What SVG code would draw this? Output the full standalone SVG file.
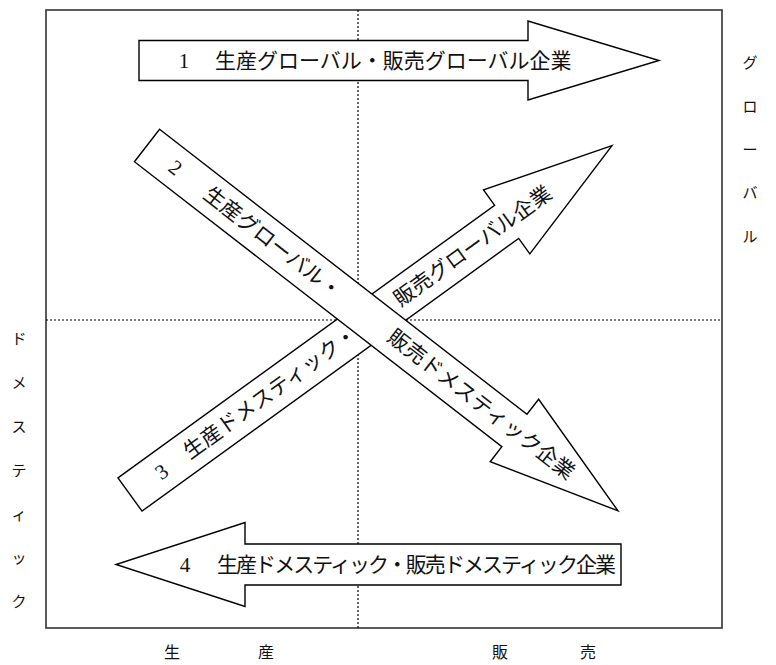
<svg xmlns="http://www.w3.org/2000/svg" width="776" height="665" viewBox="0 0 776 665">
<style>
.arrow{fill:#fff;stroke:#000;stroke-width:1.4;stroke-linejoin:miter}
.dot{stroke:#000;stroke-width:1.2;stroke-dasharray:2 2;fill:none}
.frame{fill:none;stroke:#333;stroke-width:1.6}
text{font-family:"Liberation Serif","Noto Sans CJK JP",serif;fill:#111}
.lab{font-size:21px;dominant-baseline:central}
.side{font-size:15px;text-anchor:middle;dominant-baseline:central}
.bot{font-size:16px;text-anchor:middle;dominant-baseline:central}
</style>
<rect width="776" height="665" fill="#fff"/>
<g id="frame">
<rect class="frame" x="46" y="10" width="676" height="618"/>
</g>
<g id="axes">
<line class="dot" x1="358" y1="10" x2="358" y2="628"/>
<line class="dot" x1="46" y1="320" x2="722" y2="320"/>
</g>
<g id="connectors">
<g id="arrow1">
<path class="arrow" d="M139,40.5 H528 V21 L659,60.5 L528,100 V80.5 H139 Z"/>
<text class="lab" x="184" y="60.5" text-anchor="middle">1</text>
<text class="lab" x="215" y="60.5">生産グローバル・販売グローバル企業</text>
</g>
<g id="arrow3" transform="translate(130,494.5) rotate(-35.9)">
<path class="arrow" d="M0,-20.5 H465 V-39.5 L595,0 L465,39.5 V20.5 H0 Z"/>
<text class="lab" x="39" y="0" text-anchor="middle">3</text>
<text class="lab" x="69" y="0">生産ドメスティック・</text>
<text class="lab" x="329" y="0">販売グローバル企業</text>
</g>
<g id="arrow2" transform="translate(147,145.5) rotate(37.8)">
<path class="arrow" d="M0,-20.5 H465 V-39.5 L596,0 L465,39.5 V20.5 H0 Z"/>
<text class="lab" x="36" y="0" text-anchor="middle">2</text>
<text class="lab" x="75" y="0">生産グローバル・</text>
<text class="lab" x="308" y="0">販売ドメスティック企業</text>
</g>
<g id="arrow4">
<path class="arrow" d="M621,544 H245 V522.5 L116,564.5 L245,606.5 V585 H621 Z"/>
<text class="lab" x="185" y="564.5" text-anchor="middle">4</text>
<text class="lab" x="217" y="564.5" textLength="399" lengthAdjust="spacing">生産ドメスティック・販売ドメスティック企業</text>
</g>
</g>
<g id="label-global">
<text class="side" x="750" y="63">グ</text>
<text class="side" x="750" y="107">ロ</text>
<text class="side" x="750" y="150">ー</text>
<text class="side" x="750" y="193">バ</text>
<text class="side" x="750" y="237">ル</text>
</g>
<g id="label-domestic">
<text class="side" x="19" y="339">ド</text>
<text class="side" x="19" y="383">メ</text>
<text class="side" x="19" y="427">ス</text>
<text class="side" x="19" y="471">テ</text>
<text class="side" x="19" y="515">ィ</text>
<text class="side" x="19" y="558">ッ</text>
<text class="side" x="19" y="602">ク</text>
</g>
<g id="label-bottom">
<text class="bot" x="172" y="652">生</text>
<text class="bot" x="266" y="652">産</text>
<text class="bot" x="500" y="652">販</text>
<text class="bot" x="588" y="652">売</text>
</g>
</svg>
